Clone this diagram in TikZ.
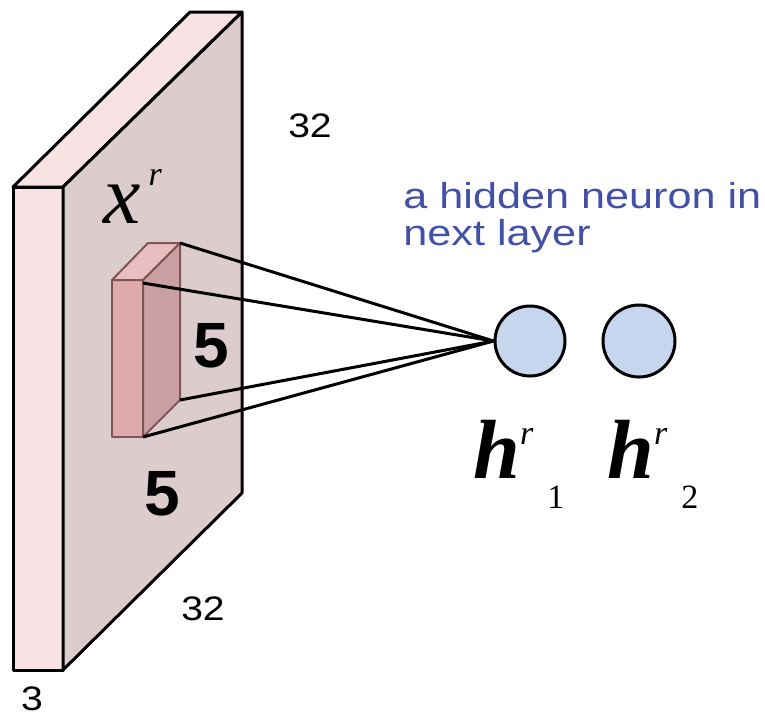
\documentclass[tikz,border=0pt]{standalone}
\usepackage{fontspec}
\setmainfont{Liberation Sans}
\newfontfamily\timesfont{Liberation Serif}
\usetikzlibrary{positioning}
\definecolor{slablight}{RGB}{249,226,228}
\definecolor{slabdark}{RGB}{221,204,205}
\definecolor{filterfront}{RGB}{222,170,172}
\definecolor{filtertop}{RGB}{232,190,192}
\definecolor{filterside}{RGB}{203,160,163}
\definecolor{filteredge}{RGB}{128,85,85}
\definecolor{neuronfill}{RGB}{198,214,238}
\definecolor{hintblue}{RGB}{66,80,166}
\newcommand{\widen}[2][1.15]{\scalebox{#1}[1]{#2}}
\newcommand{\bigit}[1]{{\fontsize{42}{42}\selectfont\timesfont\itshape #1}}
\newcommand{\smallsym}[1]{{\fontsize{17}{17}\selectfont\timesfont #1}}
\newcommand{\hlabel}[1]{\bigit{\bfseries h}\raisebox{17pt}{\smallsym{\itshape r}}\hspace{7pt}\raisebox{-15pt}{\smallsym{#1}}}
\begin{document}
\begin{tikzpicture}[
  x=0.5pt, y=-0.5pt,
  slab/.style={draw=black, line width=1.5pt, line join=round},
  filterface/.style={draw=filteredge, line width=1pt, line join=round},
  neuron/.style={circle, draw=black, line width=1.5pt, fill=neuronfill, inner sep=0pt},
  wire/.style={black, line width=1.5pt},
  dimlabel/.style={font=\fontsize{17}{17}\selectfont, inner sep=0pt, anchor=base},
  fivelabel/.style={font=\fontsize{32}{32}\selectfont\bfseries, inner sep=0pt, anchor=base},
  symlabel/.style={inner sep=0pt, anchor=base west}
]
\useasboundingbox (0,0) rectangle (765,720);

% input volume 32x32x3
\draw[slab, fill=slablight] (13,187) rectangle (63,670);
\draw[slab, fill=slablight] (13,187) -- (190,12) -- (242,12) -- (63,187) -- cycle;
\draw[slab, fill=slabdark] (63,187) -- (242,12) -- (242,493) -- (63,670) -- cycle;

% 5x5 receptive field
\draw[filterface, fill=filterfront] (112,280) rectangle (143,437);
\draw[filterface, fill=filtertop] (112,280) -- (148,243) -- (180,243) -- (143,280) -- cycle;
\draw[filterface, fill=filterside] (143,280) -- (180,243) -- (180,400) -- (143,437) -- cycle;
\coordinate (backtop) at (180,243);
\coordinate (fronttop) at (143,283);
\coordinate (backbot) at (180,400);
\coordinate (frontbot) at (143,437);

% neurons
\node[neuron, minimum size=35pt] (h1) at (530,341) {};
\node[neuron, minimum size=36pt] (h2) at (639,341) {};

\draw[wire] (backtop) -- (h1.west);
\draw[wire] (fronttop) -- (h1.west);
\draw[wire] (backbot) -- (h1.west);
\draw[wire] (frontbot) -- (h1.west);

% labels
\node[dimlabel] (depth) at (32,710) {\widen{3}};
\node[dimlabel] (height) at (310,137) {\widen{32}};
\node[dimlabel] (width) at (203,620) {\widen{32}};
\node[fivelabel] (fiveh) at (211,367) {5};
\node[fivelabel] (fivew) at (162,515) {5};
\node[symlabel] (xr) at (103,223) {\bigit{x}\hspace{4pt}\raisebox{19pt}{\smallsym{\itshape r}}};
\node[symlabel] (h1label) at (473,478) {\hlabel{1}};
\node[symlabel] (h2label) at (607,478) {\hlabel{2}};
\node[symlabel, text=hintblue, font=\fontsize{18}{18.5}\selectfont] (hint) at (403,208)
  {\widen[1.2]{\begin{tabular}[t]{@{}l@{}}a hidden neuron in\\next layer\end{tabular}}};
\end{tikzpicture}
\end{document}
